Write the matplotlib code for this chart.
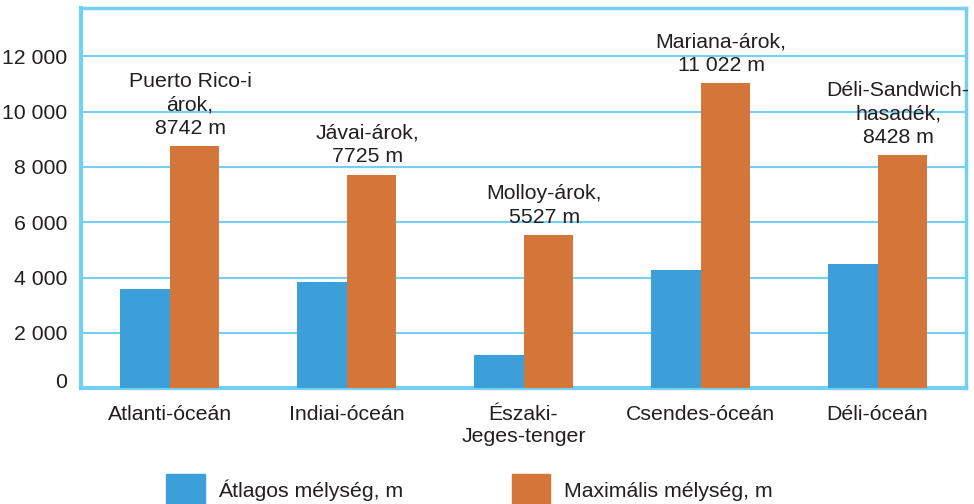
import matplotlib.pyplot as plt
from matplotlib.patches import Patch
import numpy as np

plt.rcParams['font.family'] = ['Liberation Sans', 'DejaVu Sans']

oceans = ['Atlanti-óceán', 'Indiai-óceán', 'Északi-\nJeges-tenger', 'Csendes-óceán', 'Déli-óceán']
avg_depth = [3600, 3850, 1200, 4280, 4500]
max_depth = [8742, 7725, 5527, 11022, 8428]
trench_names = ['Puerto Rico-i\nárok,', 'Jávai-árok,', 'Molloy-árok,', 'Mariana-árok,', 'Déli-Sandwich-\nhasadék,']
yticks = [0, 2000, 4000, 6000, 8000, 10000, 12000]

blue = '#3d9fd9'
orange = '#d4753a'
frame = '#74d0f3'
txt = '#231f20'
fs = 15.3


def fmt(v):
    # thousands separated by a space only from five digits up
    s = str(v)
    if v >= 10000:
        s = s[:-3] + ' ' + s[-3:]
    return s


fig = plt.figure(figsize=(9.74, 5.04), dpi=100)
ax = fig.add_axes([0.0832, 0.230, 0.9086, 0.754])

x = np.arange(len(oceans))
w = 0.28
ax.bar(x - w / 2, avg_depth, w, color=blue, zorder=3)
ax.bar(x + w / 2, max_depth, w, color=orange, zorder=3)

for xi, name, v in zip(x, trench_names, max_depth):
    ax.annotate(name + '\n' + fmt(v) + ' m', (xi + w / 2, v), xytext=(-3, 6),
                textcoords='offset points', ha='center', va='bottom',
                fontsize=fs, color=txt, linespacing=1.3, zorder=4)

ax.set_xlim(-0.5, len(oceans) - 0.5)
ax.set_ylim(0, 13750)
ax.set_yticks(yticks)
ax.set_yticklabels([(str(t)[:-3] + ' ' + str(t)[-3:]) if t >= 1000 else str(t) for t in yticks])
ax.set_xticks(x)
ax.set_xticklabels(oceans, linespacing=1.25)
ax.tick_params(length=0, labelsize=fs, labelcolor=txt)
ax.tick_params(axis='y', pad=10)
ax.tick_params(axis='x', pad=12)
ax.get_yticklabels()[0].set_va('baseline')

ax.grid(axis='y', color=frame, linewidth=1.5, zorder=1)
for side, lw in [('left', 3), ('bottom', 3), ('top', 2.5), ('right', 2.5)]:
    ax.spines[side].set_color(frame)
    ax.spines[side].set_linewidth(lw)

handles = [Patch(color=blue, label='Átlagos mélység, m'),
           Patch(color=orange, label='Maximális mélység, m')]
fig.legend(handles=handles, loc='center', bbox_to_anchor=(0.482, 0.028), ncol=2,
           frameon=False, fontsize=fs, handlelength=1.8, handleheight=1.9,
           handletextpad=0.65, columnspacing=5.1, borderpad=0, labelcolor=txt)

fig.savefig('out.png', dpi=100)
